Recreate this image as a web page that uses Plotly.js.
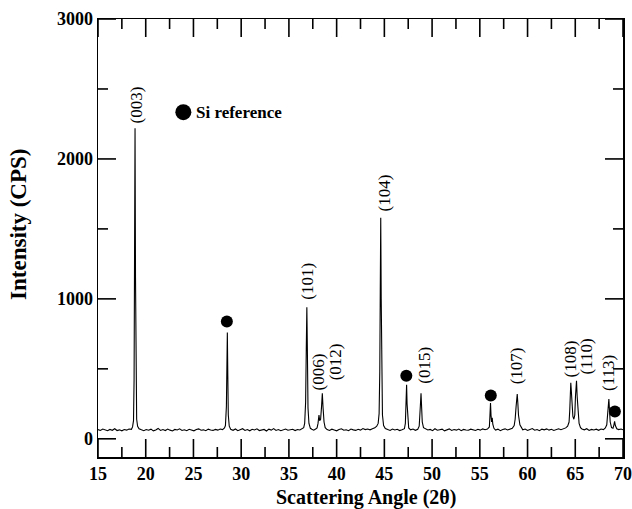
<!DOCTYPE html>
<html><head><meta charset="utf-8">
<script src="https://cdn.plot.ly/plotly-3.0.1.min.js"></script>
</head><body style="margin:0"><div id="c1" style="width:632px;height:509px"></div>
<script>
// XRD pattern (2-theta, intensity in CPS)
var twoTheta = [
 15.0,15.25,15.5,15.75,16.0,16.25,16.5,16.75,17.0,17.25,17.5,17.75,18.0,18.25,18.5,
 18.62,18.72,18.78,18.83,18.88,18.93,18.98,19.05,19.15,
 19.3,19.55,19.8,20.05,20.3,20.55,20.8,21.05,21.3,21.55,21.8,22.05,22.3,22.55,22.8,23.05,23.3,23.55,23.8,24.05,24.3,24.55,24.8,25.05,25.3,25.55,25.8,26.05,26.3,26.55,26.8,27.05,27.3,27.55,27.8,28.05,28.25,
 28.35,28.45,28.5,28.55,28.6,28.65,28.75,
 28.9,29.15,29.4,29.65,29.9,30.15,30.4,30.65,30.9,31.15,31.4,31.65,31.9,32.15,32.4,32.65,32.9,33.15,33.4,33.65,33.9,34.15,34.4,34.65,34.9,35.15,35.4,35.65,35.9,36.15,36.4,36.55,
 36.65,36.75,36.82,36.88,36.94,37.0,37.1,37.25,
 37.4,37.6,37.8,37.95,
 38.05,38.15,38.22,
 38.32,38.42,38.5,38.58,38.68,38.8,
 39.0,39.25,39.5,39.75,40.0,40.25,40.5,40.75,41.0,41.25,41.5,41.75,42.0,42.25,42.5,42.75,43.0,43.25,43.5,43.75,44.0,44.2,44.35,
 44.45,44.52,44.57,44.62,44.67,44.72,44.8,44.92,
 45.1,45.35,45.6,45.85,46.1,46.35,46.6,46.85,47.1,
 47.2,47.27,47.33,47.38,47.45,47.55,
 47.75,48.0,48.25,48.5,48.65,
 48.72,48.79,48.84,48.9,48.97,49.1,
 49.3,49.55,49.8,50.05,50.3,50.55,50.8,51.05,51.3,51.55,51.8,52.05,52.3,52.55,52.8,53.05,53.3,53.55,53.8,54.05,54.3,54.55,54.8,55.05,55.3,55.55,55.8,56.0,
 56.05,56.12,56.18,56.24,56.3,56.36,56.48,
 56.65,56.9,57.15,57.4,57.65,57.9,58.15,58.4,58.6,
 58.7,58.8,58.86,58.92,58.98,59.05,59.2,59.35,
 59.5,59.75,60.0,60.25,60.5,60.75,61.0,61.25,61.5,61.75,62.0,62.25,62.5,62.75,63.0,63.25,63.5,63.75,64.0,64.2,64.35,
 64.42,64.48,64.53,64.58,64.65,64.75,64.85,64.95,65.02,65.08,65.13,65.2,65.28,65.4,65.55,
 65.7,65.95,66.2,66.45,66.7,66.95,67.2,67.45,67.7,67.95,68.15,68.3,
 68.4,68.46,68.52,68.58,68.66,68.8,
 68.95,69.05,69.12,69.2,69.35,69.55,69.8,70.0
];
var intensity = [
 66,60,70,63,58,67,61,72,59,64,57,66,62,70,68,
 85,130,420,1250,2220,1150,380,140,90,
 72,64,58,66,61,69,57,63,74,60,66,59,70,62,56,67,63,71,60,65,58,68,62,57,66,71,61,64,58,69,63,60,67,62,70,66,78,
 95,230,560,760,450,170,90,
 68,61,70,58,65,72,60,66,57,68,63,71,59,64,67,56,69,62,73,60,66,58,65,70,61,64,68,59,66,63,72,80,
 110,260,640,940,600,220,110,75,
 68,62,70,78,
 110,170,130,
 140,230,325,220,120,80,
 66,60,69,63,57,67,72,61,65,58,70,64,60,68,62,73,66,70,64,72,78,90,110,
 180,480,1050,1580,1000,420,170,95,
 74,66,60,70,63,68,59,65,72,
 110,260,386,250,120,78,
 64,70,61,68,90,
 150,260,326,240,120,80,
 70,63,67,58,72,61,65,69,57,64,71,60,66,62,70,58,67,63,61,69,64,60,68,62,71,65,70,85,
 150,255,160,120,150,105,75,
 62,69,58,66,71,63,68,75,95,
 140,230,300,320,260,170,100,78,
 64,70,60,67,73,61,66,58,69,64,71,62,68,60,66,72,65,70,78,90,120,
 200,330,400,350,230,160,140,170,300,395,415,300,180,110,80,
 70,64,72,60,67,63,69,61,70,66,78,100,
 180,260,285,210,120,80,
 75,100,125,95,72,66,70,64
];
// Si reference markers
var siX = [28.5, 47.3, 56.15, 69.15];
var siY = [838, 450, 309, 195];
// Miller-index labels
var hklText = ['(003)','(101)','(006)','(012)','(104)','(015)','(107)','(108)','(110)','(113)'];
var hklX = [18.98, 36.86, 38.2, 39.83, 44.96, 49.19, 58.93, 64.45, 66.13, 68.4];
var hklY = [2243, 981, 331, 400, 1614, 379, 374, 421, 445, 326];
var legendText = 'Si reference';
// tick values
var xMajor = [15,20,25,30,35,40,45,50,55,60,65,70];
var xMinor = [17.5,22.5,27.5,32.5,37.5,42.5,47.5,52.5,57.5,62.5,67.5];
var yMajor = [0,1000,2000,3000];
var yMinor = [500,1500,2500];

var X0 = 15, X1 = 70, Y0 = -130, Y1 = 3000;
var serif = 'Liberation Serif';

// inside, mirrored tick marks as line segments on the axes' own scales
var LX = 128.6, LXm = 71.5, LY = 1.886, LYm = 1.048;
var tkX = [], tkY = [];
function seg(x0, y0, x1, y1){ tkX.push(x0, x1, null); tkY.push(y0, y1, null); }
xMajor.forEach(function(v){ seg(v, Y0, v, Y0 + LX); seg(v, Y1, v, Y1 - LX); });
xMinor.forEach(function(v){ seg(v, Y0, v, Y0 + LXm); seg(v, Y1, v, Y1 - LXm); });
yMajor.forEach(function(v){ seg(X0, v, X0 + LY, v); seg(X1, v, X1 - LY, v); });
yMinor.forEach(function(v){ seg(X0, v, X0 + LYm, v); seg(X1, v, X1 - LYm, v); });

var traces = [
 {x: twoTheta, y: intensity, type: 'scatter', mode: 'lines',
  line: {color: '#000', width: 1.1}, hoverinfo: 'skip'},
 {x: tkX, y: tkY, type: 'scatter', mode: 'lines', connectgaps: false,
  line: {color: '#000', width: 1.6}, hoverinfo: 'skip'},
 {x: siX, y: siY, type: 'scatter', mode: 'markers',
  marker: {color: '#000', size: 12, symbol: 'circle'}, hoverinfo: 'skip'},
 {x: [23.94], y: [2334], type: 'scatter', mode: 'markers',
  marker: {color: '#000', size: 16, symbol: 'circle'}, hoverinfo: 'skip'}
];
var ann = hklText.map(function(t, i){
 return {x: hklX[i], y: hklY[i], xref: 'x', yref: 'y', text: t, showarrow: false,
  textangle: -90, xanchor: 'center', yanchor: 'bottom',
  font: {family: serif, size: 17, color: '#000'}};
});
ann.push({x: 25.1, y: 2334, xref: 'x', yref: 'y', text: '<b>' + legendText + '</b>',
 showarrow: false, xanchor: 'left', yanchor: 'middle',
 font: {family: serif, size: 17, color: '#000'}});
ann.push({x: 0.5105, y: -0.092, xref: 'paper', yref: 'paper', text: '<b>Scattering Angle (2θ)</b>',
 showarrow: false, xanchor: 'center', yanchor: 'middle', font: {family: serif, size: 20, color: '#000'}});
ann.push({x: -0.1505, y: 0.532, xref: 'paper', yref: 'paper', text: '<b>Intensity (CPS)</b>', textangle: -90,
 showarrow: false, xanchor: 'center', yanchor: 'middle', font: {family: serif, size: 23, color: '#000'}});

var lay = {
 width: 632, height: 509,
 margin: {l: 98, r: 9, t: 19, b: 52},
 paper_bgcolor: '#fff', plot_bgcolor: '#fff',
 showlegend: false,
 font: {family: serif, color: '#000'},
 xaxis: {range: [X0, X1], tickvals: xMajor, ticks: '',
  showline: true, linecolor: '#000', linewidth: 1.5, mirror: true,
  showgrid: false, zeroline: false, automargin: false,
  tickfont: {family: serif, size: 18, color: '#000', weight: 'bold'}},
 yaxis: {range: [Y0, Y1], tickvals: yMajor, ticks: '',
  showline: true, linecolor: '#000', linewidth: 1.5, mirror: true,
  showgrid: false, zeroline: false, automargin: false,
  tickfont: {family: serif, size: 18, color: '#000', weight: 'bold'}},
 annotations: ann
};
Plotly.newPlot('c1', traces, lay, {staticPlot: true, displayModeBar: false});
</script>
</body></html>
